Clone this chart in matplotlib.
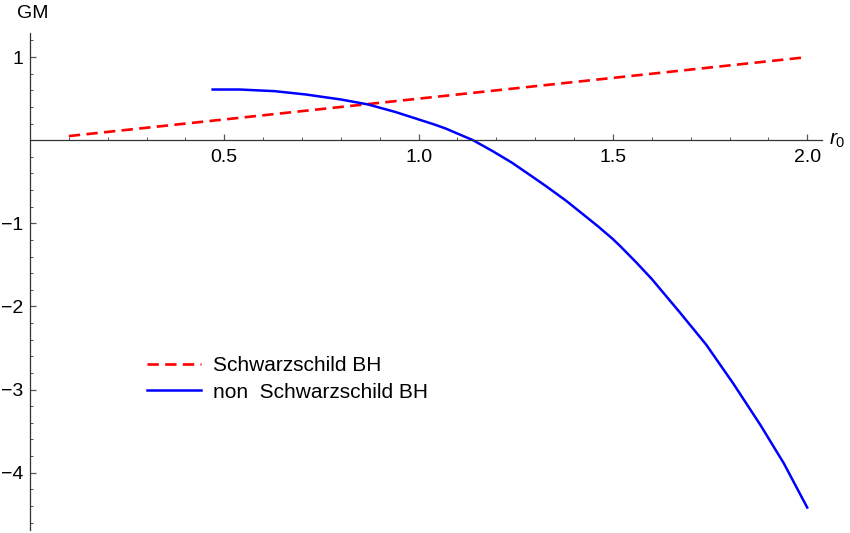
import matplotlib.pyplot as plt
import numpy as np

plt.rcParams["font.family"] = ["Liberation Sans", "DejaVu Sans"]
plt.rcParams["mathtext.fontset"] = "custom"
plt.rcParams["mathtext.rm"] = "Liberation Sans"
plt.rcParams["mathtext.it"] = "Liberation Sans:italic"

# Schwarzschild BH (straight line, read from the end points)
r_schw = [0.10, 2.00]
gm_schw = [0.05, 1.00]

# non Schwarzschild BH
r_non = [0.47, 0.54, 0.63, 0.71, 0.80, 0.87, 0.94, 1.00, 1.04, 1.07, 1.10,
         1.14, 1.19, 1.24, 1.29, 1.33, 1.38, 1.42, 1.46, 1.50, 1.52, 1.56,
         1.60, 1.67, 1.74, 1.81, 1.88, 1.94, 2.00]
gm_non = [0.61, 0.61, 0.59, 0.55, 0.49, 0.43, 0.34, 0.25, 0.19, 0.14, 0.08,
          0.00, -0.13, -0.27, -0.43, -0.56, -0.73, -0.88, -1.03, -1.19, -1.28,
          -1.47, -1.67, -2.06, -2.46, -2.93, -3.43, -3.89, -4.42]

fig = plt.figure(figsize=(8.5, 5.33), dpi=100)
ax = fig.add_axes([30 / 850, 1 - 530 / 533, (822 - 30) / 850, (530 - 33) / 533])

line_s, = ax.plot(r_schw, gm_schw, color="#ff0000", lw=1.9, label="Schwarzschild BH")
line_s.set_dashes((4.3, 2.4))
ax.plot(r_non, gm_non, color="#0000ff", lw=1.8, label="non  Schwarzschild BH")

ax.set_xlim(0, 2.038)
ax.set_ylim(-4.69, 1.29)

ax.spines["left"].set_position(("data", 0))
ax.spines["bottom"].set_position(("data", 0))
ax.spines["right"].set_visible(False)
ax.spines["top"].set_visible(False)
for s in ("left", "bottom"):
    ax.spines[s].set_color("#333333")
    ax.spines[s].set_linewidth(0.9)

ax.set_xticks([0.5, 1.0, 1.5, 2.0])
ax.set_xticklabels(["0.5", "1.0", "1.5", "2.0"])
ax.set_xticks(np.arange(0.1, 2.05, 0.1), minor=True)
ax.set_yticks([1, -1, -2, -3, -4])
ax.set_yticklabels(["1", "\u22121", "\u22122", "\u22123", "\u22124"])
ax.set_yticks(np.arange(-4.6, 1.25, 0.2), minor=True)

ax.tick_params(which="major", direction="in", length=4, width=0.9,
               color="#555555", labelsize=14)
ax.tick_params(which="minor", direction="in", length=2.4, width=0.7,
               color="#555555")
ax.tick_params(axis="x", which="major", pad=6)
ax.tick_params(axis="y", which="major", pad=4.5)

fig.text(17 / 850, 1 - 14 / 533, "GM", fontsize=14, va="center", ha="left")
fig.text(829 / 850, 1 - 140 / 533, "$r_0$", fontsize=15, va="center", ha="left")

ax.legend(loc="center left", bbox_to_anchor=(147 / 850, 1 - 379 / 533),
          bbox_transform=fig.transFigure, frameon=False, fontsize=15,
          handlelength=2.6, handletextpad=0.55, borderpad=0, borderaxespad=0,
          labelspacing=0.35)

fig.savefig("out.png", dpi=100)
